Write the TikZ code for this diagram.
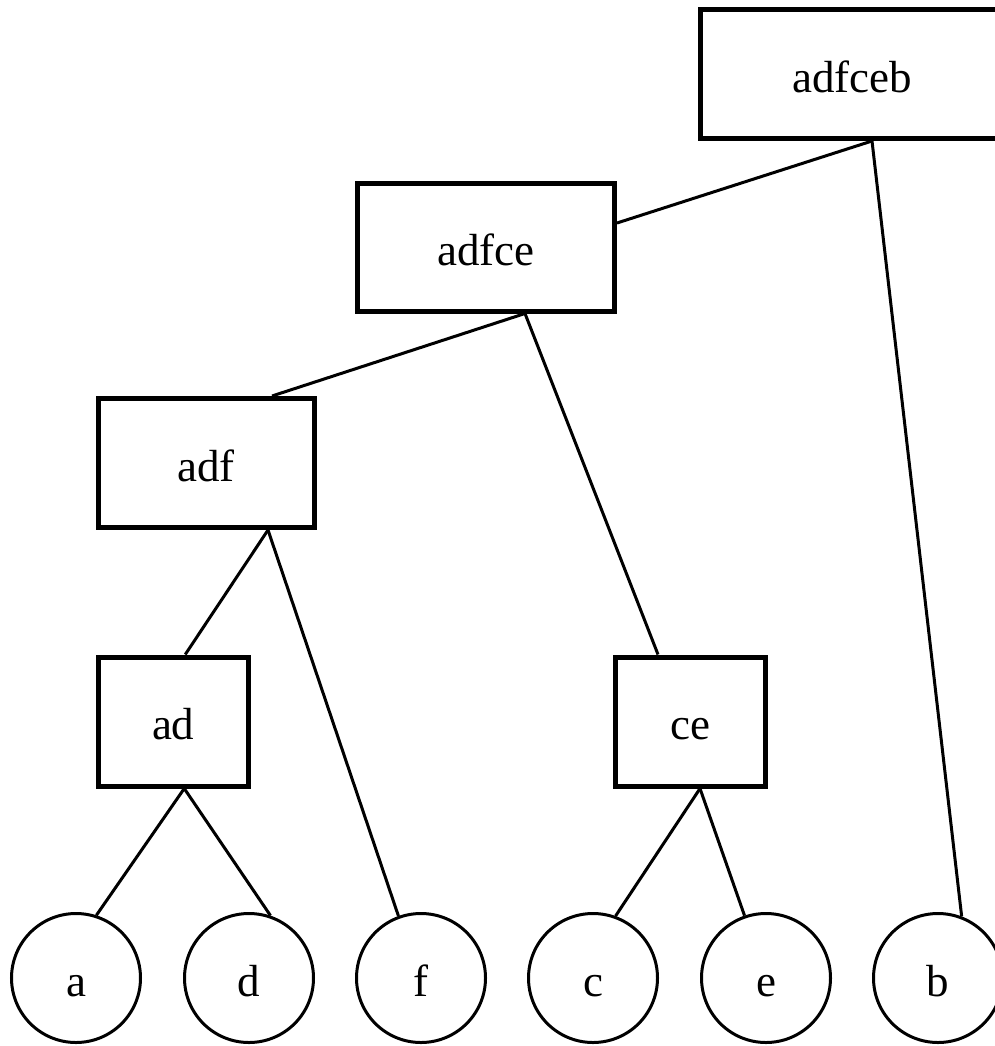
\documentclass[tikz,border=0pt]{standalone}
\usepackage{fontspec}
\setmainfont{Liberation Serif}
\begin{document}
\begin{tikzpicture}[x=1pt,y=-1pt,
  every node/.style={font=\fontsize{45}{54}\selectfont, inner sep=0pt,
    text height=40pt, text depth=4pt},
  setbox/.style={draw, rectangle, line width=5pt},
  leaf/.style={draw, circle, line width=3pt, minimum size=129pt},
  link/.style={line width=3pt}]
\useasboundingbox (0,0) rectangle (995,1046);
\clip (0,0) rectangle (995,1046);

% merged sets
\node[setbox, minimum width=303pt, minimum height=128.5pt] (adfceb) at (852,74.25) {adfceb};
\node[setbox, minimum width=257pt, minimum height=128pt]   (adfce)  at (486,247)   {adfce};
\node[setbox, minimum width=216pt, minimum height=129pt]   (adf)    at (206,463)   {adf};
\node[setbox, minimum width=150.5pt, minimum height=129pt] (ad)     at (173.25,721.5) {ad};
\node[setbox, minimum width=150pt, minimum height=129pt]   (ce)     at (690,721.5) {ce};

% single elements
\node[leaf] (a) at (76,978)  {a};
\node[leaf] (d) at (249,978) {d};
\node[leaf] (f) at (421,978) {f};
\node[leaf] (c) at (593,978) {c};
\node[leaf] (e) at (766,978) {e};
\node[leaf] (b) at (938,978) {b};

% tree edges
\draw[link] ([xshift=20pt]adfceb.south) -- ([yshift=24pt]adfce.east);
\draw[link] ([xshift=20pt]adfceb.south) -- (b.69);
\draw[link] ([xshift=39pt]adfce.south) -- ([xshift=66pt]adf.north);
\draw[link] ([xshift=39pt]adfce.south) -- ([xshift=-32pt]ce.north);
\draw[link] ([xshift=62pt]adf.south) -- ([xshift=12pt]ad.north);
\draw[link] ([xshift=62pt]adf.south) -- (f.110);
\draw[link] ([xshift=11pt]ad.south) -- (a.72);
\draw[link] ([xshift=11pt]ad.south) -- (d.71);
\draw[link] ([xshift=10pt]ce.south) -- (c.70);
\draw[link] ([xshift=10pt]ce.south) -- (e.109);
\end{tikzpicture}
\end{document}
